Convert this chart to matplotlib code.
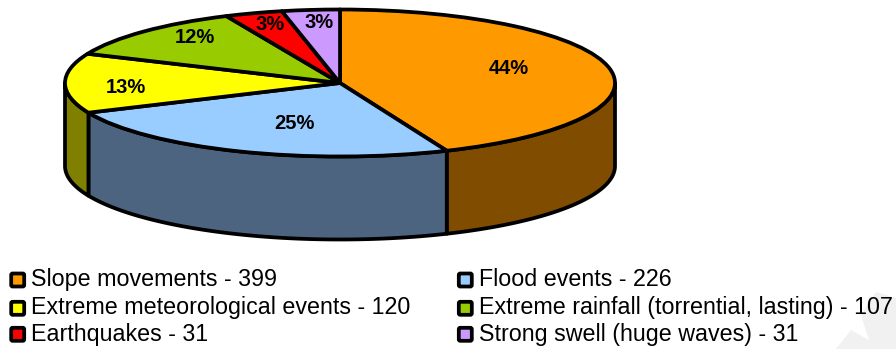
"""3D-style pie of event counts with a two-column legend."""

import numpy as np
import matplotlib
matplotlib.use('Agg')
import matplotlib.pyplot as plt
from matplotlib.patches import FancyBboxPatch, Polygon, Wedge
from matplotlib.transforms import Affine2D

categories = ['Slope movements', 'Flood events', 'Extreme meteorological events',
              'Extreme rainfall (torrential, lasting)', 'Earthquakes',
              'Strong swell (huge waves)']
counts = [399, 226, 120, 107, 31, 31]
top_colors = ['#FF9900', '#99CCFF', '#FFFF00', '#99CC00', '#FF0000', '#CC99FF']
side_colors = ['#804D00', '#4D6480', '#808000', '#4D6600', '#800000', '#4D3380']
percent_labels = ['44%', '25%', '13%', '12%', '3%', '3%']

plt.rcParams['font.family'] = ['Liberation Sans', 'DejaVu Sans']

W, H = 896, 349
CX, CY = 340, H - 83
RX, RY = 275, 73.5
DEPTH = 83
LW = 2.7

fig = plt.figure(figsize=(W / 100, H / 100), dpi=100)
ax = fig.add_axes([0, 0, 1, 1])
ax.set_xlim(0, W)
ax.set_ylim(0, H)
ax.axis('off')


def rim(a, b):
    """Points on the top ellipse between two angles in degrees."""
    t = np.radians(np.linspace(a, b, 80))
    return np.column_stack([CX + RX * np.cos(t), CY + RY * np.sin(t)])


# Faint mark in the lower right corner
corner = [(836, 349), (851, 330), (869, 340), (861, 315), (876, 292),
          (896, 298), (896, 349)]
ax.add_patch(Polygon([(x, H - y) for x, y in corner], closed=True,
                     facecolor='#F1F1F1', edgecolor='none'))

# Slice angles run clockwise from the top of the ellipse
sweep = 360 * np.array(counts) / sum(counts)
ends = 90 - np.cumsum(sweep)
starts = ends + sweep

# Outer walls, only where the slice faces the front
for a, b, color in zip(starts, ends, side_colors):
    lo, hi = max(b, -180), min(a, 0)
    if lo >= hi:
        continue
    front = rim(hi, lo)
    wall = np.vstack([front, (front - [0, DEPTH])[::-1]])
    ax.add_patch(Polygon(wall, closed=True, facecolor=color, edgecolor='black',
                         linewidth=LW, joinstyle='round'))

# Top faces, as unit wedges stretched into the ellipse
stretch = Affine2D().scale(RX, RY).translate(CX, CY) + ax.transData
for a, b, color in zip(starts, ends, top_colors):
    ax.add_patch(Wedge((0, 0), 1, b, a, facecolor=color, edgecolor='black',
                       linewidth=LW, joinstyle='round', transform=stretch))

# Percent labels sit at fixed spots on each slice
label_xy = [(509, 68.5), (294, 123.5), (126, 87.5), (195, 37.5), (270, 24), (319, 22)]
for text, (x, y) in zip(percent_labels, label_xy):
    ax.text(x, H - y, text, fontsize=14.5, fontweight='bold', color='black',
            ha='center', va='center')

# Legend, filled row by row across two columns
row_y = [285.7, 314.3, 341]
box_y = [280, 308.3, 334.3]
col_x = [31, 479]
box_x = [17.7, 465.3]
for i, (name, count, color) in enumerate(zip(categories, counts, top_colors)):
    col, row = i % 2, i // 2
    ax.text(col_x[col], H - row_y[row], f'{name} - {count}', fontsize=16.75,
            color='black', ha='left', va='baseline')
    ax.add_patch(FancyBboxPatch((box_x[col] - 6.5, H - box_y[row] - 6.5), 13, 13,
                                boxstyle='round,pad=0,rounding_size=1.5',
                                facecolor=color, edgecolor='black', linewidth=LW))

fig.savefig('out.png', dpi=100)
